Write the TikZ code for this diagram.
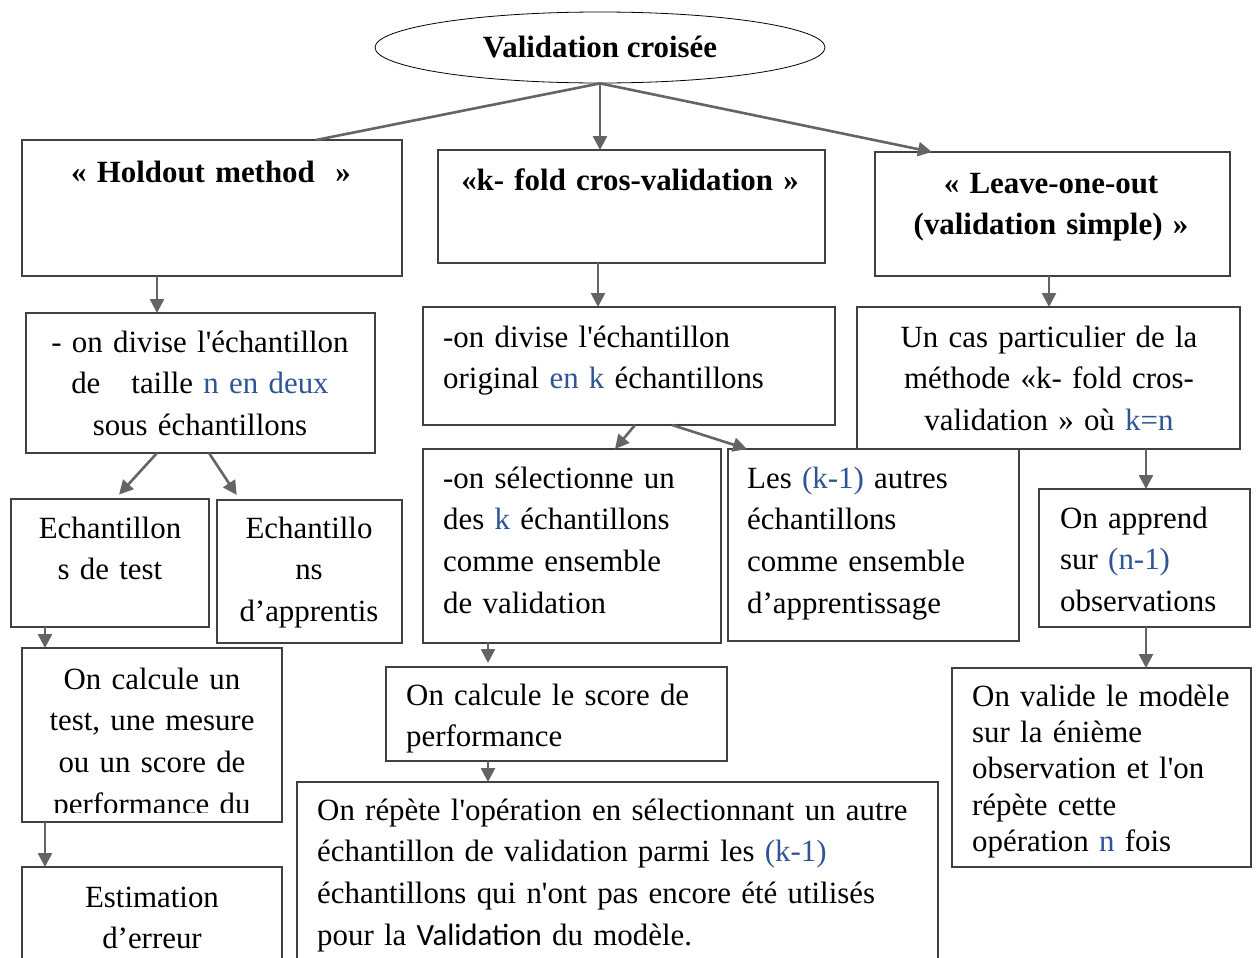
\documentclass[tikz,border=0pt]{standalone}
\usepackage{fontspec}
\setmainfont{Liberation Serif}[Ligatures=TeXOff]
\newfontfamily\calfont{Carlito}
\usetikzlibrary{arrows.meta,shapes.geometric,calc}
\definecolor{kblue}{RGB}{47,84,150}
\definecolor{linegray}{RGB}{100,100,100}
\definecolor{boxgray}{RGB}{64,64,64}
\newcommand{\bl}[1]{\textcolor{kblue}{#1}}

\begin{document}
\begin{tikzpicture}[x=1bp, y=-1bp, >={Triangle[length=14bp,width=14bp]}]
    \tikzstyle{box}=[rectangle, draw=boxgray, line width=1.2bp, inner sep=0pt, outer sep=0pt, anchor=north west]
    \tikzstyle{ctxt}=[font=\fontsize{31}{42}\selectfont, inner sep=0pt, text width=420bp, align=center, anchor=base]
    \tikzstyle{ltxt}=[ctxt, text width=640bp, align=left, anchor=base west]
    \tikzstyle{link}=[draw=linegray, line width=2.6bp]
    \useasboundingbox (0,0) rectangle (1256,958);

    % root
    \node[ellipse, draw, line width=0.8bp, minimum width=450bp, minimum height=71bp, inner sep=0pt,
          font=\fontsize{31}{42}\selectfont\bfseries] (vc) at (600,47.5) {\raisebox{-3bp}{Validation croisée}};

    % boxes
    \node[box, minimum width=380bp, minimum height=136bp] (hold) at (22,140) {};
    \node[box, minimum width=387bp, minimum height=113bp] (kfold) at (438,150) {};
    \node[box, minimum width=355bp, minimum height=124bp] (leave) at (875,152) {};
    \node[box, minimum width=349bp, minimum height=140bp] (hdiv) at (26,313) {};
    \node[box, minimum width=198bp, minimum height=128bp] (htest) at (11,499) {};
    \node[box, minimum width=185bp, minimum height=143bp] (happ) at (217,500) {};
    \node[box, minimum width=260bp, minimum height=174bp] (hcalc) at (22,648) {};
    \node[box, minimum width=260bp, minimum height=123bp] (herr) at (22,867) {};
    \node[box, minimum width=412bp, minimum height=118bp] (kdiv) at (423,307) {};
    \node[box, minimum width=298bp, minimum height=194bp] (ksel) at (423,449) {};
    \node[box, minimum width=291bp, minimum height=192bp] (kres) at (728,449) {};
    \node[box, minimum width=341bp, minimum height=94bp] (kcalc) at (386,667) {};
    \node[box, minimum width=641bp, minimum height=208bp] (krep) at (297,782) {};
    \node[box, minimum width=383bp, minimum height=142bp] (lcas) at (857,307) {};
    \node[box, minimum width=211bp, minimum height=138bp] (lapp) at (1039,489) {};
    \node[box, minimum width=299bp, minimum height=199bp] (lval) at (952,668) {};

    % texts
    \node[ctxt, font=\fontsize{31}{42}\selectfont\bfseries] (hold-t) at (211,182) {« Holdout method\ \ »};
    \node[ctxt, font=\fontsize{31}{42}\selectfont\bfseries] (kfold-t) at (630,190) {«k- fold cros-validation »};
    \node[ctxt, font=\fontsize{31}{42}\selectfont\bfseries] (leave-t) at (1051,193) {« Leave-one-out\\(validation simple) »};
    \node[ctxt] (hdiv-t) at (200,352) {- on divise l'échantillon\\de\hspace{31bp}taille \bl{n en deux}\\sous échantillons};
    \node[ctxt] (htest-t) at (110,538) {Echantillon\\s de test};
    \node[ctxt] (happ-t) at (309,538) {Echantillo\\ns\\d’apprentis};
    \begin{scope}
      \clip (hcalc.north west) rectangle ($(hcalc.south east)+(0,-10)$);
      \node[ctxt] (hcalc-t) at (152,689) {On calcule un\\test, une mesure\\ou un score de\\performance du};
    \end{scope}
    \node[ctxt] (herr-t) at (152,907) {Estimation\\d’erreur};
    \node[ltxt] (kdiv-t) at (443,347) {-on divise l'échantillon\\original \bl{en k} échantillons};
    \node[ltxt] (ksel-t) at (443,488) {-on sélectionne un\\des \bl{k} échantillons\\comme ensemble\\de validation};
    \node[ltxt] (kres-t) at (747,488) {Les \bl{(k-1)} autres\\échantillons\\comme ensemble\\d’apprentissage};
    \node[ltxt] (kcalc-t) at (406,705) {On calcule le score de\\performance};
    \node[ltxt] (krep-t) at (317,820) {On répète l'opération en sélectionnant un autre\\échantillon de validation parmi les \bl{(k-1)}\\échantillons qui n'ont pas encore été utilisés\\pour la {\calfont Validation} du modèle.};
    \node[ctxt] (lcas-t) at (1049,347) {Un cas particulier de la\\méthode «k- fold cros-\\validation » où \bl{k=n}};
    \node[ltxt] (lapp-t) at (1060,528) {On apprend\\sur \bl{(n-1)}\\observations};
    \node[ltxt, font=\fontsize{31}{36.5}\selectfont] (lval-t) at (972,706) {On valide le modèle\\sur la énième\\observation et l'on\\répète cette\\opération \bl{n} fois};

    % connectors
    \coordinate (hl) at (316,140);
    \coordinate (kl) at (932,152);
    \draw[link] (vc.south) -- (hl);
    \draw[link,->] (vc.south) -- (vc.south |- kfold.north);
    \draw[link,->] (vc.south) -- (kl);
    \draw[link,->] (hold.south -| 157,0) -- (hdiv.north -| 157,0);
    \draw[link,->,shorten >=6bp] (hdiv.south -| 157,0) -- (htest.north -| 115,0);
    \draw[link,->,shorten >=6bp] (hdiv.south -| 209,0) -- (happ.north -| 240,0);
    \draw[link,->] (htest.south -| 45,0) -- (hcalc.north -| 45,0);
    \draw[link,->] (hcalc.south -| 45,0) -- (herr.north -| 45,0);
    \draw[link,->] (kfold.south -| 598,0) -- (kdiv.north -| 598,0);
    \draw[link,->] (kdiv.south -| 635,0) -- (ksel.north -| 615,0);
    \draw[link,->] (kdiv.south -| 672,0) -- (kres.north -| 747,0);
    \draw[link,->,shorten >=4bp] (ksel.south -| 488,0) -- (kcalc.north -| 488,0);
    \draw[link,->] (kcalc.south -| 488,0) -- (krep.north -| 488,0);
    \draw[link,->] (leave.south -| 1049,0) -- (lcas.north -| 1049,0);
    \draw[link,->] (lcas.south -| 1146,0) -- (lapp.north -| 1146,0);
    \draw[link,->] (lapp.south -| 1146,0) -- (lval.north -| 1146,0);
\end{tikzpicture}
\end{document}
